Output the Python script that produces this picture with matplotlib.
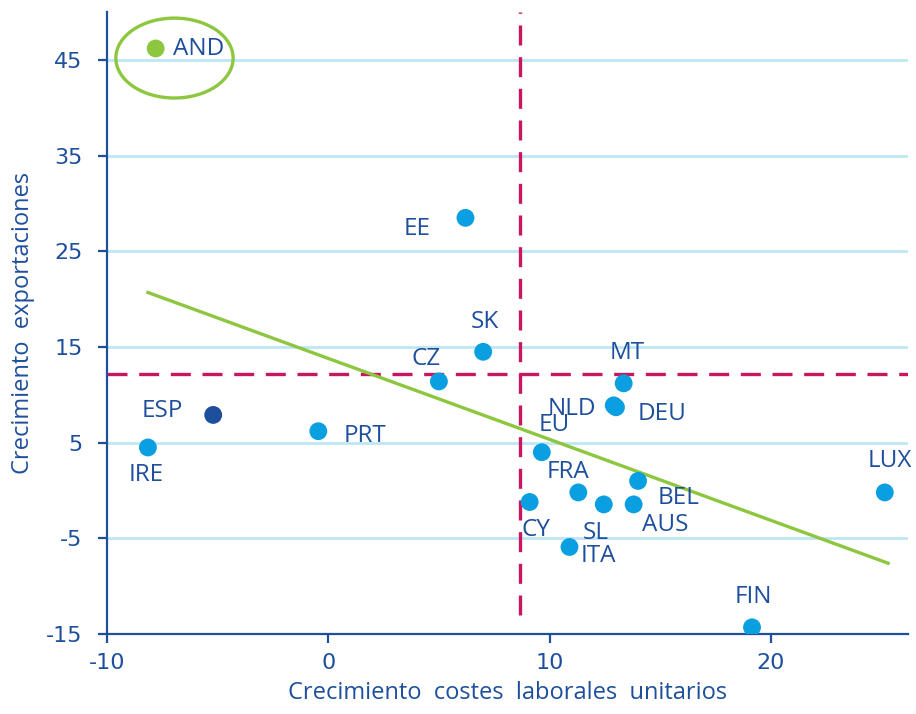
import matplotlib.pyplot as plt
from matplotlib.patches import Ellipse

plt.rcParams["axes.unicode_minus"] = False

# Datos
paises = ["AND", "EE", "SK", "CZ", "MT", "NLD", "DEU", "ESP", "PRT", "IRE", "EU",
          "FRA", "CY", "SL", "AUS", "BEL", "ITA", "LUX", "FIN"]
costes = [-7.8, 6.2, 7.0, 5.0, 13.35, 12.9, 13.0, -5.2, -0.45, -8.15, 9.65,
          11.3, 9.1, 12.45, 13.8, 14.0, 10.9, 25.15, 19.15]
export = [46.2, 28.5, 14.5, 11.4, 11.2, 8.9, 8.7, 7.9, 6.2, 4.5, 4.0,
          -0.2, -1.2, -1.45, -1.45, 1.0, -5.9, -0.2, -14.3]

# lineas de referencia (media)
media_costes = 8.65
media_export = 12.2
# recta de tendencia
tend_x = [-8.15, 25.3]
tend_y = [20.7, -7.6]

# offsets de las etiquetas en pixeles (dx, dy)
offsets = {
    "AND": (17, -1), "EE": (-48, -11), "SK": (2, 30), "CZ": (-13, 22),
    "MT": (4, 30), "NLD": (-42, -4), "DEU": (46, -7), "ESP": (-51, 4),
    "PRT": (47, -5), "IRE": (-2, -28), "EU": (12, 27), "FRA": (-10, 20),
    "CY": (6, -28), "SL": (-8, -29), "AUS": (32, -21), "BEL": (40, -17),
    "ITA": (29, -9), "LUX": (5, 31), "FIN": (1, 30),
}

azul_osc = "#1d4f9c"
azul = "#0a9fe0"
verde = "#8dc63f"
magenta = "#c8175e"

fig = plt.figure(figsize=(9.16, 7.14), dpi=100)
ax = fig.add_axes([0.1168, 0.112, 0.8745, 0.871])

ax.set_xlim(-10, 26.2)
ax.set_ylim(-15, 50)
ax.set_xticks([-10, 0, 10, 20])
ax.set_yticks([-15, -5, 5, 15, 25, 35, 45])

for y in [-5, 5, 15, 25, 35, 45]:
    ax.axhline(y, color="#bfe6f5", lw=2, zorder=0)

ax.spines["top"].set_visible(False)
ax.spines["right"].set_visible(False)
for s in ["left", "bottom"]:
    ax.spines[s].set_color(azul_osc)
    ax.spines[s].set_linewidth(1.6)
ax.tick_params(colors=azul_osc, width=1.6, length=6.5, labelsize=16)
ax.tick_params(axis="y", pad=11)
ax.tick_params(axis="x", pad=7)

# lineas de media
ax.plot([media_costes, media_costes], [-13, 50], color=magenta, lw=2.4,
        dashes=(6, 3.5), zorder=2)
ax.plot([-10, 26.2], [media_export, media_export], color=magenta, lw=2.4,
        dashes=(6, 3.5), zorder=2)

# tendencia
ax.plot(tend_x, tend_y, color=verde, lw=2.4, zorder=3)

colores = []
for p in paises:
    if p == "AND":
        colores.append(verde)
    elif p == "ESP":
        colores.append(azul_osc)
    else:
        colores.append(azul)
ax.scatter(costes, export, s=165, c=colores, edgecolors="none", zorder=4)

for p, x, y in zip(paises, costes, export):
    dx, dy = offsets[p]
    ha = "left" if p == "AND" else "center"
    ax.annotate(p, (x, y), xytext=(dx * 0.72, dy * 0.72), textcoords="offset points",
                ha=ha, va="center", fontsize=17.5, color=azul_osc,
                family="Open Sans", zorder=5)

# elipse alrededor de AND
ax.add_patch(Ellipse((-6.95, 45.2), 5.3, 8.35, fill=False, ec=verde, lw=2.4,
                     zorder=5, clip_on=False))

ax.set_xlabel("Crecimiento  costes  laborales  unitarios", fontsize=17,
              color=azul_osc, family="Open Sans", labelpad=6)
ax.set_ylabel("Crecimiento  exportaciones", fontsize=17, color=azul_osc,
              family="Open Sans", labelpad=8)

fig.savefig("out.png", dpi=100)
